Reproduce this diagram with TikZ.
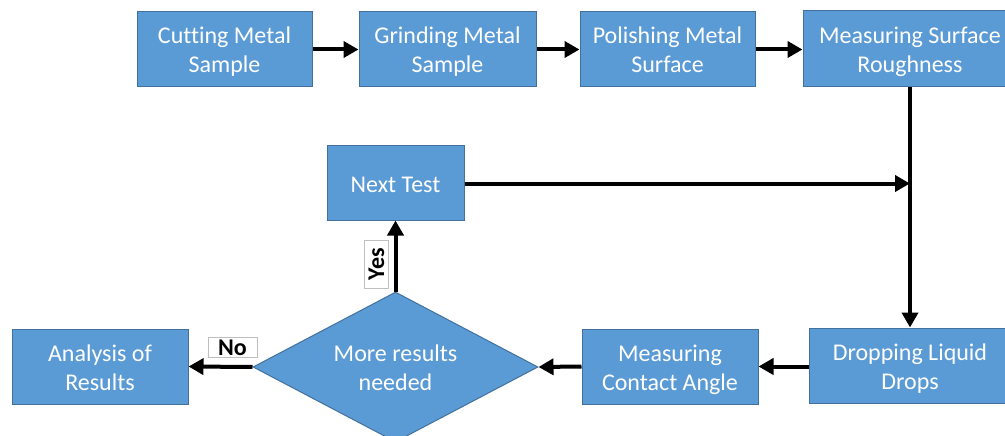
\documentclass[tikz,border=0pt]{standalone}
\usepackage{fontspec}
\setmainfont{Carlito}[Ligatures=NoCommon]
\usetikzlibrary{arrows.meta,shapes.geometric}
\definecolor{boxfill}{HTML}{5B9BD5}
\definecolor{boxline}{HTML}{41719C}
\tikzset{
  stepbox/.style={draw=boxline, line width=1pt, fill=boxfill, text=white, align=center,
    font=\fontsize{24}{29}\selectfont, inner sep=0pt, minimum height=75pt,
    text height=47pt, text depth=0pt},
  onebox/.style={stepbox, text height=19pt, text depth=0pt},
  decision/.style={diamond, draw=boxline, line width=1pt, fill=boxfill, text=white, align=center,
    font=\fontsize{24}{29}\selectfont, inner sep=0pt, aspect=1.9, minimum width=285pt, minimum height=150pt,
    text height=47pt, text depth=0pt},
  flow/.style={line width=4pt, -{Triangle[length=15pt,width=16pt]}},
  lbl/.style={draw=black!25, fill=white, line width=0.8pt, font=\fontsize{24}{26}\selectfont\bfseries,
    inner sep=0pt, text height=16pt, text depth=0pt}
}
\begin{document}
\begin{tikzpicture}[x=1pt,y=-1pt]
\useasboundingbox (0,0) rectangle (1005,436);
\clip (0,0) rectangle (1005,436);
\node[stepbox, minimum width=175pt] (cut) at (224.5,49.5) {Cutting Metal\\Sample};
\node[stepbox, minimum width=177pt] (grind) at (447.5,49.5) {Grinding Metal\\Sample};
\node[stepbox, minimum width=175pt] (pol) at (667.5,49.5) {Polishing Metal\\Surface};
\node[stepbox, minimum width=214pt, minimum height=76pt] (rough) at (910,49) {Measuring Surface\\Roughness};
\node[onebox, minimum width=137pt] (next) at (395.5,182.5) {Next Test};
\node[decision] (dec) at (395.5,367) {More results\\needed};
\node[stepbox, minimum width=176pt] (ana) at (100,366.5) {Analysis of\\Results};
\node[stepbox, minimum width=176pt] (mca) at (670,366.5) {Measuring\\Contact Angle};
\node[stepbox, minimum width=202pt] (drop) at (910,365.5) {Dropping Liquid\\Drops};
\coordinate (join) at (910,183.5);

\draw[flow] (cut.east) -- (grind.west);
\draw[flow] (grind.east) -- (pol.west);
\draw[flow] (pol.east) -- (rough.west |- pol.east);
\draw[flow] (rough.south) -- (drop.north);
\draw[flow] (next.east |- join) -- (join);
\draw[flow] (drop.west |- mca.east) -- (mca.east);
\draw[flow] (mca.west) -- (dec.east);
\draw[flow] (dec.west) -- (ana.east);
\draw[flow] (dec.north) -- (next.south);

\node[lbl, minimum width=49pt, minimum height=20pt] (no) at (232.5,347) {No};
\node[lbl, rotate=90, minimum width=48pt, minimum height=24pt] (yes) at (376,264) {Yes};
\end{tikzpicture}
\end{document}
